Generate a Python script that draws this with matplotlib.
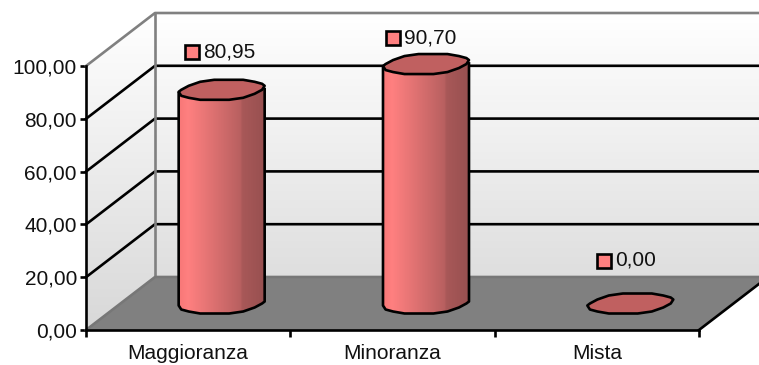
import numpy as np
import matplotlib
matplotlib.use("Agg")
import matplotlib.pyplot as plt
from matplotlib.colors import LinearSegmentedColormap
from matplotlib.patches import Polygon

categories = ["Maggioranza", "Minoranza", "Mista"]
values = [80.95, 90.70, 0.00]
value_labels = ["80,95", "90,70", "0,00"]
y_ticks = [0, 20, 40, 60, 80, 100]
y_tick_labels = ["0,00", "20,00", "40,00", "60,00", "80,00", "100,00"]

W, H = 759, 365
X0_PX, Y0_PX = 86, 330          # where the front axes cross
PX_PER_CAT = 204.33
PX_PER_VAL = 2.64
DEPTH_X = 69 / PX_PER_CAT
DEPTH_Y = 53 / PX_PER_VAL
LW = 1.9

# label key offset from the top of each cylinder, in pixels
key_dx = [-30, -33, -26]
key_dy = [38, 26, 43]

plt.rcParams["font.family"] = ["Liberation Sans", "DejaVu Sans"]

fig = plt.figure(figsize=(W / 100, H / 100), dpi=100)
ax = fig.add_axes([0, 0, 1, 1])
xlim = (-X0_PX / PX_PER_CAT, (W - X0_PX) / PX_PER_CAT)
ylim = ((Y0_PX - H) / PX_PER_VAL, Y0_PX / PX_PER_VAL)

# walls
x_end = xlim[1] + DEPTH_X
wall = Polygon([(0, 0), (DEPTH_X, DEPTH_Y), (x_end, DEPTH_Y), (x_end, 100 + DEPTH_Y),
                (DEPTH_X, 100 + DEPTH_Y), (0, 100)], fc="none", ec="none")
ax.add_patch(wall)
wall_cmap = LinearSegmentedColormap.from_list("wall", ["#ffffff", "#d8d8d8"])
im = ax.imshow(np.linspace(0, 1, 200)[:, None], cmap=wall_cmap, aspect="auto", zorder=1,
               extent=(0, x_end, 0, 100 + DEPTH_Y), origin="upper")
im.set_clip_path(wall)

# floor
ax.add_patch(Polygon([(0, 0), (3, 0), (3 + DEPTH_X, DEPTH_Y), (DEPTH_X, DEPTH_Y)],
                     fc="#808080", ec="none", zorder=2))
ax.plot([3, 3 + DEPTH_X], [0, DEPTH_Y], color="black", lw=LW, zorder=3)

# gridlines
for v in y_ticks[1:-1]:
    ax.plot([0, DEPTH_X, x_end], [v, v + DEPTH_Y, v + DEPTH_Y], color="black", lw=LW, zorder=3)
ax.plot([0, DEPTH_X, x_end], [100, 100 + DEPTH_Y, 100 + DEPTH_Y], color="#808080", lw=LW, zorder=3)
ax.plot([DEPTH_X, DEPTH_X], [DEPTH_Y, 100 + DEPTH_Y], color="#808080", lw=LW, zorder=3)
ax.plot([0, DEPTH_X, x_end], [0, DEPTH_Y, DEPTH_Y], color="#777777", lw=LW, zorder=3)


def rim(cx, cy, t):
    # coarse outline of the cylinder rim, tilted and stepped like the original rendering
    px = 43 * np.cos(t)
    py = 3 * np.cos(t) + 10 * np.sin(t)
    py = np.round(py / 2) * 2
    return cx + px / PX_PER_CAT, cy + py / PX_PER_VAL


body_cmap = LinearSegmentedColormap.from_list(
    "body", [(0, "#f87878"), (0.1, "#ff8080"), (0.72, "#b86060"), (0.74, "#a85858"), (1, "#985050")])

for i, v in enumerate(values):
    cx = i + 0.5 + DEPTH_X / 2 - 1 / PX_PER_CAT
    base = DEPTH_Y / 2
    top = base + v

    if v > 0:
        bx, by = rim(cx, base, np.linspace(np.pi, 2 * np.pi, 10))
        tx, ty = rim(cx, top, np.array([np.pi, 2 * np.pi]))
        outline = np.r_[[[tx[0], ty[0]]], np.c_[bx, by], [[tx[1], ty[1]]]]
        body = Polygon(outline, closed=True, fc="none", ec="none")
        ax.add_patch(body)
        bar_im = ax.imshow(np.linspace(0, 1, 100)[None, :], cmap=body_cmap, aspect="auto",
                           extent=(tx[0], tx[1], base - 6, top + 6), zorder=4)
        bar_im.set_clip_path(body)
        ax.add_patch(Polygon(outline, closed=False, fc="none", ec="black", lw=LW, zorder=5,
                             joinstyle="round"))

    tx, ty = rim(cx, top, np.linspace(0, 2 * np.pi, 19)[:-1])
    ax.add_patch(Polygon(np.c_[tx, ty], closed=True, fc="#c06060", ec="black", lw=LW,
                         zorder=6, joinstyle="round"))

    kx = cx + key_dx[i] / PX_PER_CAT
    ky = top + key_dy[i] / PX_PER_VAL
    ax.plot([kx], [ky], marker="s", ms=10.5, mfc="#ff8080", mec="black", mew=LW, zorder=7)
    ax.text(kx + 11 / PX_PER_CAT, ky, value_labels[i], fontsize=15, va="center", ha="left",
            color="#111111", zorder=7)

ax.set_xlim(*xlim)
ax.set_ylim(*ylim)

# real axes, moved onto the front corner of the box
for side in ["top", "right"]:
    ax.spines[side].set_visible(False)
for side in ["left", "bottom"]:
    ax.spines[side].set_position(("data", 0))
    ax.spines[side].set_linewidth(LW)
    ax.spines[side].set_zorder(3)
ax.spines["left"].set_bounds(0, 100)
ax.spines["bottom"].set_bounds(0, 3)
ax.set_axisbelow(False)

ax.set_yticks(y_ticks)
ax.set_yticklabels(y_tick_labels, fontsize=15, color="#111111")
ax.set_xticks(range(4))
ax.set_xticklabels([])
ax.set_xticks(np.arange(len(categories)) + 0.5, labels=categories, minor=True, fontsize=15,
              color="#111111")
ax.tick_params(axis="y", length=4.5, width=LW, pad=2)
ax.tick_params(axis="x", which="major", length=5, width=LW)
ax.tick_params(axis="x", which="minor", length=0, pad=10)

fig.savefig("out.png", dpi=100)
